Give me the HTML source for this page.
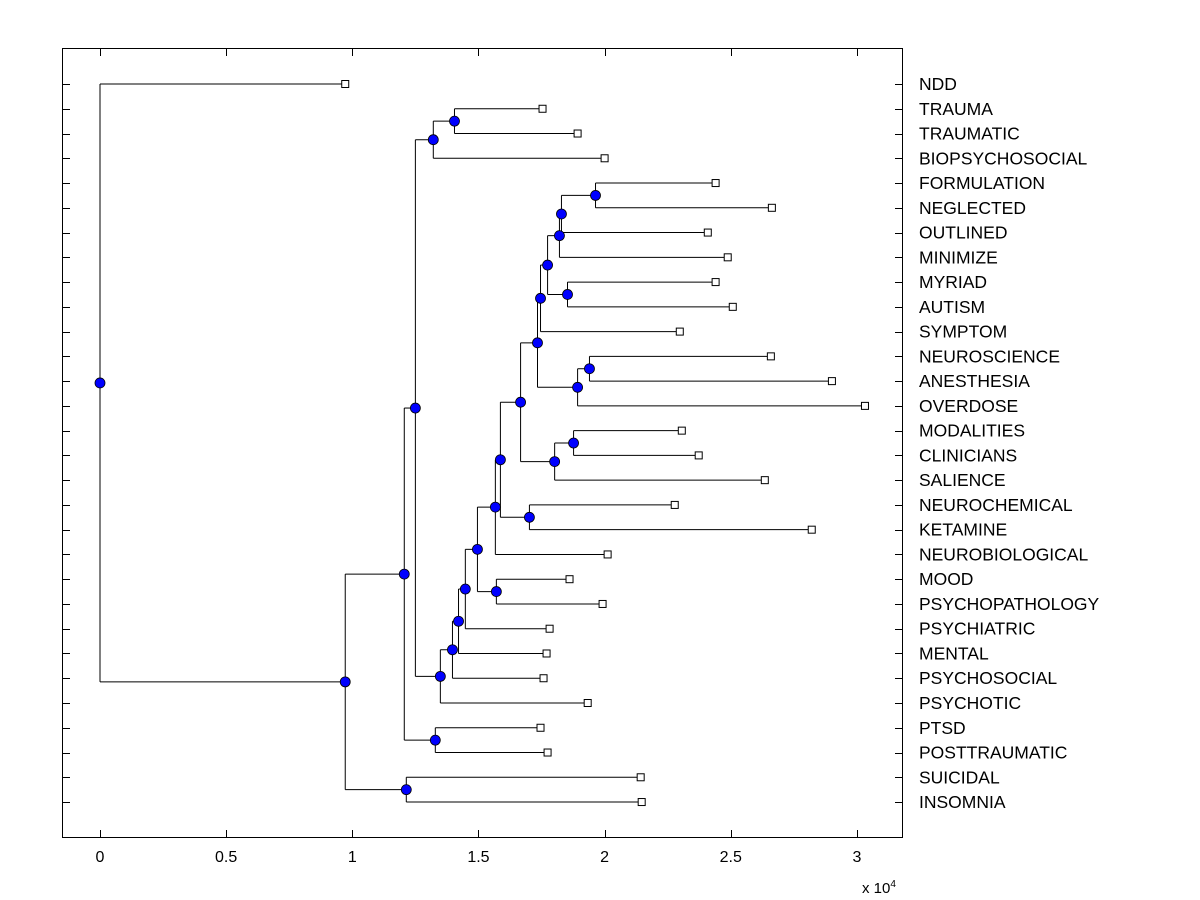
<!DOCTYPE html>
<html><head><meta charset="utf-8"><style>
body{margin:0;background:#fff;}
svg{display:block;font-family:"Liberation Sans",Arial,sans-serif;}
</style></head><body>
<svg id="chart" width="1200" height="900" viewBox="0 0 1200 900" xmlns="http://www.w3.org/2000/svg">
<rect x="62.5" y="48.5" width="840" height="789" fill="#fff" stroke="#000" stroke-width="1"/>
<g id="axes"></g><g id="tree"></g><g id="marks"></g>
<text x="862" y="893" font-size="15">x 10<tspan dy="-6" font-size="10">4</tspan></text>
</svg>
<script>
const leafLabels=["NDD","TRAUMA","TRAUMATIC","BIOPSYCHOSOCIAL","FORMULATION","NEGLECTED","OUTLINED","MINIMIZE","MYRIAD","AUTISM","SYMPTOM","NEUROSCIENCE","ANESTHESIA","OVERDOSE","MODALITIES","CLINICIANS","SALIENCE","NEUROCHEMICAL","KETAMINE","NEUROBIOLOGICAL","MOOD","PSYCHOPATHOLOGY","PSYCHIATRIC","MENTAL","PSYCHOSOCIAL","PSYCHOTIC","PTSD","POSTTRAUMATIC","SUICIDAL","INSOMNIA"];
const leafValues=[0.972,1.754,1.893,2.0,2.44,2.663,2.409,2.488,2.44,2.508,2.298,2.659,2.901,3.032,2.306,2.373,2.635,2.278,2.821,2.012,1.861,1.992,1.782,1.77,1.758,1.933,1.746,1.774,2.143,2.147];
const mergeLeft=[1,30,4,32,33,8,34,36,11,38,37,14,41,40,17,43,45,20,46,48,49,50,51,31,26,53,28,55,0];
const mergeRight=[2,3,5,6,7,9,35,10,12,13,39,15,16,42,18,44,19,21,47,22,23,24,25,52,27,54,29,56,57];
const mergeValues=[1.405,1.321,1.964,1.829,1.821,1.853,1.774,1.746,1.94,1.893,1.734,1.877,1.802,1.667,1.702,1.587,1.567,1.571,1.496,1.448,1.421,1.397,1.349,1.25,1.329,1.206,1.214,0.972,0];
const xTicks=[0,0.5,1,1.5,2,2.5,3];
const xTickLabels=["0","0.5","1","1.5","2","2.5","3"];

const NS="http://www.w3.org/2000/svg";
const X=v=>100+v*252.3;
const Y=i=>84+i*24.76;
function mk(tag,attrs,parent){const e=document.createElementNS(NS,tag);for(const k in attrs)e.setAttribute(k,attrs[k]);parent.appendChild(e);return e;}
const axes=document.getElementById('axes'),tree=document.getElementById('tree'),marks=document.getElementById('marks');
xTicks.forEach((t,i)=>{
  const x=Math.round(X(t))+0.5;
  let l=mk('line',{x1:x,x2:x,y1:838,y2:830,stroke:'#000'},axes);
  
  
  l=mk('line',{x1:x,x2:x,y1:48,y2:56,stroke:'#000'},axes);
  
  
  const tx=mk('text',{x:X(t),y:862,'font-size':16,'text-anchor':'middle'},axes);
  tx.textContent=xTickLabels[i];
  
  
});
leafLabels.forEach((lab,i)=>{
  const y=Math.round(Y(i))+0.5;
  let l=mk('line',{x1:62,x2:70,y1:y,y2:y,stroke:'#000'},axes);
  
  
  l=mk('line',{x1:895,x2:903,y1:y,y2:y,stroke:'#000'},axes);
  
  
  const tx=mk('text',{x:919,y:Y(i)+6,'font-size':17.5},axes);
  tx.textContent=lab;
  
  
});
const n=leafLabels.length;
const px=[],py=[];
leafValues.forEach((v,i)=>{px[i]=X(v);py[i]=Y(i);});
mergeValues.forEach((v,k)=>{
  const id=n+k,a=mergeLeft[k],b=mergeRight[k];
  px[id]=X(v);py[id]=(py[a]+py[b])/2;
  const x=px[id];
  let l=mk('line',{x1:x,x2:x,y1:py[a],y2:py[b],stroke:'#000'},tree);
  
  
  [a,b].forEach(c=>{
    const h=mk('line',{x1:x,x2:px[c],y1:py[c],y2:py[c],stroke:'#000'},tree);
    
    
  });
});
leafValues.forEach((v,i)=>{
  const r=mk('rect',{x:px[i]-3.5,y:py[i]-3.5,width:7,height:7,fill:'#fff',stroke:'#000'},marks);
  
  
});
mergeValues.forEach((v,k)=>{
  const id=n+k;
  const c=mk('circle',{cx:px[id],cy:py[id],r:5,fill:'#0000ff',stroke:'#000','stroke-width':0.8},marks);
  
  
});
</script>
</body></html>
